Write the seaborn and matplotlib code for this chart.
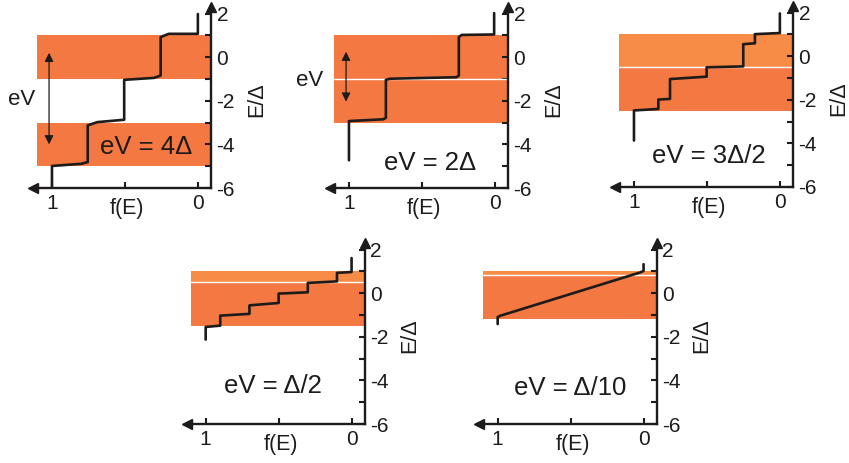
import matplotlib
matplotlib.use("Agg")
import matplotlib.pyplot as plt
import seaborn as sns
import pandas as pd

sns.set_style("white")
plt.rcParams['font.family'] = ['Liberation Sans', 'DejaVu Sans']
plt.rcParams['axes.unicode_minus'] = False

# ---- data ----
labels = ["eV = 4Δ", "eV = 2Δ", "eV = 3Δ/2", "eV = Δ/2", "eV = Δ/10"]

f1 = [1, 1, 0.8, 0.755, 0.755, 0.69, 0.505, 0.505, 0.3, 0.255, 0.255, 0.2, 0.0, 0.0]
E1 = [-5.95, -4.99, -4.89, -4.81, -3.13, -2.98, -2.87, -1.04, -0.95, -0.84, 0.92, 1.07, 1.07, 1.98]

f2 = [1, 1, 0.765, 0.747, 0.747, 0.72, 0.263, 0.247, 0.247, 0.228, 0.005, 0.005]
E2 = [-4.73, -2.93, -2.85, -2.78, -1.04, -0.99, -0.92, -0.84, 0.92, 1.02, 1.04, 2.02]

f3 = [1, 1, 0.833, 0.833, 0.753, 0.753, 0.502, 0.502, 0.251, 0.251, 0.171, 0.171, 0, 0]
E3 = [-3.87, -2.49, -2.42, -1.99, -1.96, -1.05, -0.94, -0.51, -0.47, 0.55, 0.59, 1.01, 1.06, 1.96]

f4 = [1, 1, 0.90, 0.90, 0.70, 0.70, 0.50, 0.50, 0.30, 0.30, 0.10, 0.10, 0, 0]
E4 = [-2.13, -1.55, -1.49, -1.03, -0.95, -0.56, -0.45, -0.02, 0.04, 0.47, 0.54, 0.93, 0.97, 1.61]

f5 = [1, 1, 0.984, 0.023, 0.0, 0.0]
E5 = [-1.42, -1.1, -1.04, 0.95, 1.02, 1.33]

curves_f = [f1, f2, f3, f4, f5]
curves_E = [E1, E2, E3, E4, E5]

upper_band = [(-1, 1)] * 5
lower_band = [(-5, -3), (-3, -1), (-2.5, -0.5), (-1.5, 0.5), (-1.17, 0.83)]
white_edge = [False, True, True, True, True]

# double arrows (eV) only in first two panels: (f, top, bottom)
ev_arrows = {0: (1.02, 0.2, -4.0), 1: (1.02, 0.25, -2.04)}
ev_text_pos = {0: (1.21, -1.96), 1: (1.267, -1.05)}
label_pos = [(0.356, -4.1), (0.445, -4.85), (0.49, -4.6), (0.537, -4.26), (0.505, -4.36)]

yticks_major = [-6, -4, -2, 0, 2]
yticks_minor = [-5, -3, -1, 1]
ytick_labels = ["-6", "-4", "-2", "0", "2"]
xticks_major = [1, 0]
xticks_minor = [0.5]
xtick_labels = ["1", "0"]

# ---- layout ----
W, H = 849, 463
dark = "#F47842"
light = "#F68C46"
upper_color = [dark, dark, light, light, light]

XL = (1.13, -0.09)
YL = (-6, 2.3)
axw, axh = 178 / W, 181 / H
positions = [
    (33 / W, (H - 188) / H),
    (330 / W, (H - 188) / H),
    (615 / W, (H - 187) / H),
    (186.7 / W, (H - 424) / H),
    (478.7 / W, (H - 424) / H),
]

fig = plt.figure(figsize=(W / 100, H / 100), dpi=100)
band_xmin = (XL[0] - 1.1) / (XL[0] - XL[1])

for i in range(5):
    ax = fig.add_axes([positions[i][0], positions[i][1], axw, axh])
    ax.set_xlim(*XL)
    ax.set_ylim(*YL)
    ax.set_facecolor("none")

    ax.axhspan(*upper_band[i], xmin=band_xmin, xmax=1, color=upper_color[i], lw=0, zorder=0)
    ax.axhspan(*lower_band[i], xmin=band_xmin, xmax=1, color=dark, lw=0, zorder=0.5)
    if white_edge[i]:
        ax.axhline(lower_band[i][1], xmin=band_xmin, xmax=1, color="white", lw=1.0, zorder=0.6)

    df = pd.DataFrame({"f": curves_f[i], "E": curves_E[i]})
    sns.lineplot(data=df, x="f", y="E", sort=False, estimator=None, color="#1e1b1b",
                 lw=1.9, ax=ax, zorder=3)

    for s in ["left", "top"]:
        ax.spines[s].set_visible(False)
    for s in ["right", "bottom"]:
        ax.spines[s].set_visible(True)
        ax.spines[s].set_linewidth(1.7)
        ax.spines[s].set_color("#1e1b1b")
    # axis arrow heads
    ax.plot(1, 1, marker="^", color="#1e1b1b", ms=7, transform=ax.transAxes, clip_on=False)
    ax.plot(0, 0, marker="<", color="#1e1b1b", ms=7, transform=ax.transAxes, clip_on=False)

    ax.yaxis.tick_right()
    ax.set_yticks(yticks_major)
    ax.set_yticklabels(ytick_labels)
    ax.set_yticks(yticks_minor, minor=True)
    ax.set_xticks(xticks_major)
    ax.set_xticklabels(xtick_labels)
    ax.set_xticks(xticks_minor, minor=True)
    ax.tick_params(axis="both", which="both", direction="in", length=4, width=1.5,
                   color="#1e1b1b", labelsize=15, labelcolor="#1e1b1b")
    ax.tick_params(axis="y", which="both", left=False, right=True, pad=4)
    ax.tick_params(axis="x", which="both", bottom=True, top=False, pad=4)

    ax.set_xlabel("f(E)", fontsize=15.5, color="#1e1b1b")
    ax.xaxis.set_label_coords(0.53, -0.055)
    ax.set_ylabel("E/Δ", fontsize=15.5, color="#1e1b1b")
    ax.yaxis.set_label_position("right")
    ax.yaxis.set_label_coords(1.255, 0.49)
    ax.yaxis.label.set_va("center")
    ax.yaxis.label.set_rotation(90)

    ax.text(*label_pos[i], labels[i], fontsize=18.5, ha="center", va="center",
            color="#1e1b1b", zorder=4)

    if i in ev_arrows:
        fx, top, bot = ev_arrows[i]
        ax.annotate("", xy=(fx, top), xytext=(fx, bot),
                    arrowprops=dict(arrowstyle="<|-|>", lw=0.9, color="#1e1b1b",
                                    mutation_scale=13, shrinkA=0, shrinkB=0), zorder=4)
        tx, ty = ev_text_pos[i]
        ax.text(tx, ty, "eV", fontsize=16, ha="center", va="center", color="#1e1b1b",
                clip_on=False)

fig.savefig("out.png", dpi=100)
